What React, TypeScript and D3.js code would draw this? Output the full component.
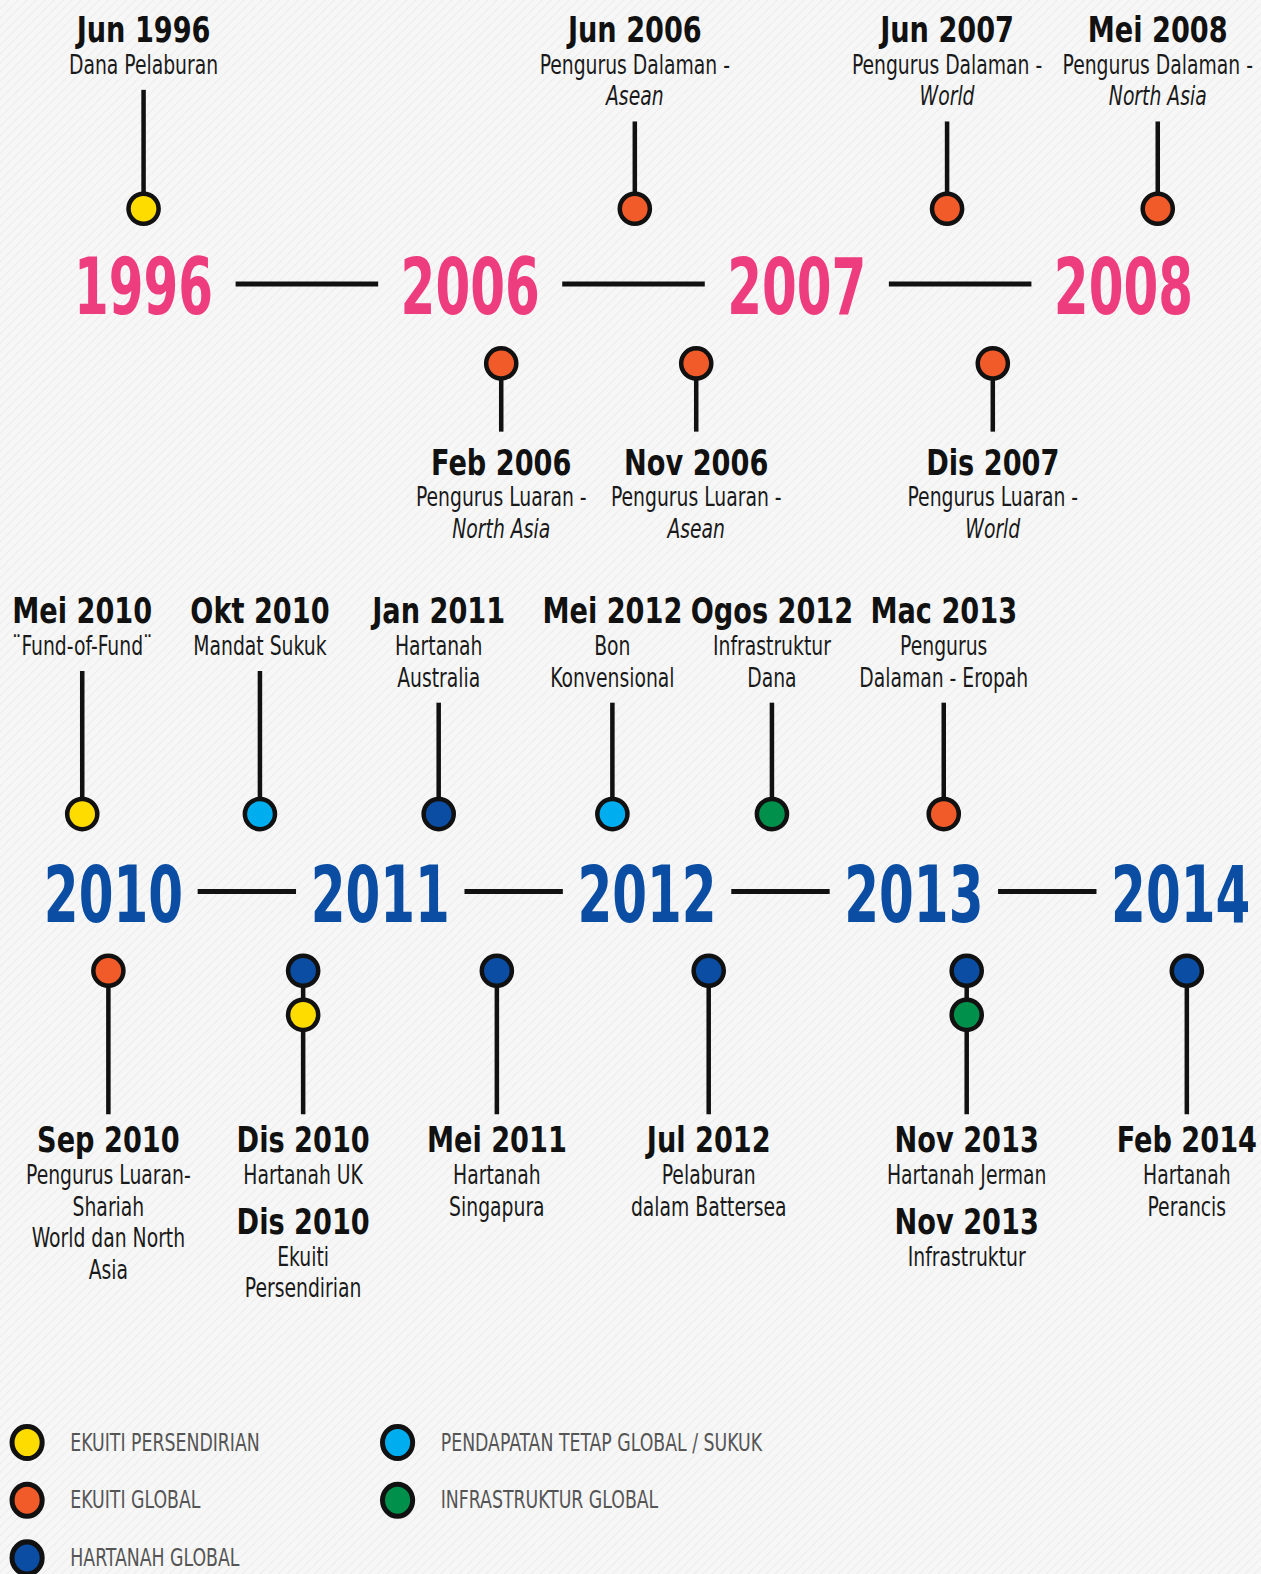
import * as d3 from 'd3';

// year markers on each of the two timelines
const topYears = ['1996', '2006', '2007', '2008'];
const bottomYears = ['2010', '2011', '2012', '2013', '2014'];

// legend categories (asset classes)
const categories = [
  'EKUITI PERSENDIRIAN',
  'EKUITI GLOBAL',
  'HARTANAH GLOBAL',
  'PENDAPATAN TETAP GLOBAL / SUKUK',
  'INFRASTRUKTUR GLOBAL'
];
const palette = ['#ffdc00', '#f15a29', '#0a4da2', '#00aeef', '#00904c'];

// slot = place along the timeline, in year-label steps
const topEvents = [
  { slot: 0, side: 'up', blocks: [{ title: 'Jun 1996', lines: ['Dana Pelaburan'], cat: 'EKUITI PERSENDIRIAN' }] },
  { slot: 1.504, side: 'up', blocks: [{ title: 'Jun 2006', lines: ['Pengurus Dalaman -'], region: 'Asean', cat: 'EKUITI GLOBAL' }] },
  { slot: 2.46, side: 'up', blocks: [{ title: 'Jun 2007', lines: ['Pengurus Dalaman -'], region: 'World', cat: 'EKUITI GLOBAL' }] },
  { slot: 3.105, side: 'up', blocks: [{ title: 'Mei 2008', lines: ['Pengurus Dalaman -'], region: 'North Asia', cat: 'EKUITI GLOBAL' }] },
  { slot: 1.095, side: 'down', blocks: [{ title: 'Feb 2006', lines: ['Pengurus Luaran -'], region: 'North Asia', cat: 'EKUITI GLOBAL' }] },
  { slot: 1.692, side: 'down', blocks: [{ title: 'Nov 2006', lines: ['Pengurus Luaran -'], region: 'Asean', cat: 'EKUITI GLOBAL' }] },
  { slot: 2.6, side: 'down', blocks: [{ title: 'Dis 2007', lines: ['Pengurus Luaran -'], region: 'World', cat: 'EKUITI GLOBAL' }] }
];

const bottomEvents = [
  { slot: -0.117, side: 'up', blocks: [{ title: 'Mei 2010', lines: ['\u00A8Fund-of-Fund\u00A8'], cat: 'EKUITI PERSENDIRIAN' }] },
  { slot: 0.549, side: 'up', blocks: [{ title: 'Okt 2010', lines: ['Mandat Sukuk'], cat: 'PENDAPATAN TETAP GLOBAL / SUKUK' }] },
  { slot: 1.219, side: 'up', blocks: [{ title: 'Jan 2011', lines: ['Hartanah', 'Australia'], cat: 'HARTANAH GLOBAL' }] },
  { slot: 1.87, side: 'up', blocks: [{ title: 'Mei 2012', lines: ['Bon', 'Konvensional'], cat: 'PENDAPATAN TETAP GLOBAL / SUKUK' }] },
  { slot: 2.468, side: 'up', blocks: [{ title: 'Ogos 2012', lines: ['Infrastruktur', 'Dana'], cat: 'INFRASTRUKTUR GLOBAL' }] },
  { slot: 3.112, side: 'up', blocks: [{ title: 'Mac 2013', lines: ['Pengurus', 'Dalaman - Eropah'], cat: 'EKUITI GLOBAL' }] },
  { slot: -0.019, side: 'down', blocks: [{ title: 'Sep 2010', lines: ['Pengurus Luaran-', 'Shariah', 'World dan North', 'Asia'], cat: 'EKUITI GLOBAL' }] },
  {
    slot: 0.711, side: 'down', blocks: [
      { title: 'Dis 2010', lines: ['Hartanah UK'], cat: 'HARTANAH GLOBAL' },
      { title: 'Dis 2010', lines: ['Ekuiti', 'Persendirian'], cat: 'EKUITI PERSENDIRIAN' }
    ]
  },
  { slot: 1.437, side: 'down', blocks: [{ title: 'Mei 2011', lines: ['Hartanah', 'Singapura'], cat: 'HARTANAH GLOBAL' }] },
  { slot: 2.231, side: 'down', blocks: [{ title: 'Jul 2012', lines: ['Pelaburan', 'dalam Battersea'], cat: 'HARTANAH GLOBAL' }] },
  {
    slot: 3.198, side: 'down', blocks: [
      { title: 'Nov 2013', lines: ['Hartanah Jerman'], cat: 'HARTANAH GLOBAL' },
      { title: 'Nov 2013', lines: ['Infrastruktur'], cat: 'INFRASTRUKTUR GLOBAL' }
    ]
  },
  { slot: 4.023, side: 'down', blocks: [{ title: 'Feb 2014', lines: ['Hartanah', 'Perancis'], cat: 'HARTANAH GLOBAL' }] }
];

const W = 1256;
const H = 1568;
const FONT = "'DejaVu Sans Condensed', 'DejaVu Sans', sans-serif";
const INK = '#111';
const LINE = 31.5;

const color = d3.scaleOrdinal<string, string>().domain(categories).range(palette);

const rows = [
  {
    years: topYears, events: topEvents, yearColor: '#ee3d7e', x0: 143, x1: 1119, half: 71,
    yearY: 313, lineY: 283, upTitleY: 42, upDotY: 208, downDotY: 362, stemEnd: 430, downTitleY: 473
  },
  {
    years: bottomYears, events: bottomEvents, yearColor: '#0a4da2', x0: 113, x1: 1176, half: 49,
    yearY: 918, lineY: 888, upTitleY: 621, upDotY: 811, downDotY: 967, stemEnd: 1110, downTitleY: 1148
  }
];

// condensed text: the installed fonts are wider than the original's, so squeeze horizontally
function T({ x, y, sx, anchor = 'middle', children, ...rest }: any) {
  return (
    <text transform={`translate(${x},${y}) scale(${sx},1)`} textAnchor={anchor} style={{ fontStretch: 'condensed' }} {...rest}>
      {children}
    </text>
  );
}

function Title({ x, y, text }: any) {
  return <T x={x} y={y} sx={0.86} fontSize={35} fontWeight="bold" fill={INK}>{text}</T>;
}

function Sub({ x, y, text, italic }: any) {
  return <T x={x} y={y} sx={0.8} fontSize={26} fontStyle={italic ? 'italic' : 'normal'} fill="#1a1a1a">{text}</T>;
}

function Dot({ x, y, fill }: { x: number; y: number; fill: string }) {
  return <circle cx={x} cy={y} r={15} fill={fill} stroke={INK} strokeWidth={4.5} />;
}

function Row({ row }: { row: any }) {
  const pos = d3.scalePoint<string>().domain(row.years).range([row.x0, row.x1]);
  const slotX = d3.scaleLinear().domain([0, row.years.length - 1]).range([row.x0, row.x1]);
  return (
    <g>
      {row.years.map((yr: string) => (
        <T key={yr} x={pos(yr)} y={row.yearY} sx={0.71} fontSize={78} fontWeight="bold" fill={row.yearColor}>{yr}</T>
      ))}
      {d3.pairs(row.years).map(([a, b]: any) => {
        const m = ((pos(a) as number) + (pos(b) as number)) / 2;
        return <line key={a} x1={m - row.half} x2={m + row.half} y1={row.lineY} y2={row.lineY}
          stroke={INK} strokeWidth={5} />;
      })}
      {row.events.map((ev: any, k: number) => {
        const x = slotX(ev.slot);
        if (ev.side === 'up') {
          const b = ev.blocks[0];
          const all = b.region ? [...b.lines, b.region] : b.lines;
          const last = row.upTitleY + LINE * all.length;
          return (
            <g key={k}>
              <Title x={x} y={row.upTitleY} text={b.title} />
              {all.map((l: string, i: number) => (
                <Sub key={i} x={x} y={row.upTitleY + LINE * (i + 1)} text={l}
                  italic={b.region && i === all.length - 1} />
              ))}
              <line x1={x} x2={x} y1={last + 16} y2={row.upDotY} stroke={INK} strokeWidth={4.5} />
              <Dot x={x} y={row.upDotY} fill={color(b.cat)} />
            </g>
          );
        }
        let y = row.downTitleY;
        const texts: any[] = [];
        ev.blocks.forEach((b: any, bi: number) => {
          const all = b.region ? [...b.lines, b.region] : b.lines;
          texts.push(<Title key={'t' + bi} x={x} y={y} text={b.title} />);
          all.forEach((l: string, i: number) => {
            texts.push(<Sub key={'l' + bi + '-' + i} x={x} y={y + LINE * (i + 1)} text={l}
              italic={b.region && i === all.length - 1} />);
          });
          y += LINE * all.length + 50;
        });
        return (
          <g key={k}>
            <line x1={x} x2={x} y1={row.downDotY} y2={row.stemEnd} stroke={INK} strokeWidth={4.5} />
            {ev.blocks.map((b: any, bi: number) => (
              <Dot key={bi} x={x} y={row.downDotY + bi * 44} fill={color(b.cat)} />
            ))}
            {texts}
          </g>
        );
      })}
    </g>
  );
}

export default function App() {
  const legendRow = d3.scalePoint<number>().domain([0, 1, 2]).range([1437, 1552]);
  const legendCol = d3.scalePoint<number>().domain([0, 1]).range([27, 396]);
  return (
    <svg width={1261} height={1574} viewBox={`0 0 ${W} ${H}`} preserveAspectRatio="none"
      style={{ position: 'absolute', left: 0, top: 0, display: 'block' }} fontFamily={FONT}>
      <defs>
        <pattern id="stripes" width={9} height={9} patternUnits="userSpaceOnUse">
          <path d="M-1,1 l2,-2 M0,9 l9,-9 M8,10 l2,-2" stroke="#ebebeb" strokeWidth={1} />
        </pattern>
      </defs>
      <rect width={W} height={H} fill="#f7f7f7" />
      <rect width={W} height={H} fill="url(#stripes)" />
      {rows.map((r, i) => <Row key={i} row={r} />)}
      {categories.map((c, i) => {
        const cx = legendCol(Math.floor(i / 3)) as number;
        const cy = legendRow(i % 3) as number;
        return (
          <g key={c}>
            <ellipse cx={cx} cy={cy} rx={15} ry={16} fill={color(c)} stroke={INK} strokeWidth={5} />
            <T x={cx + 43} y={cy + 8} sx={0.8} anchor="start" fontSize={24} fill="#555">{c}</T>
          </g>
        );
      })}
    </svg>
  );
}
